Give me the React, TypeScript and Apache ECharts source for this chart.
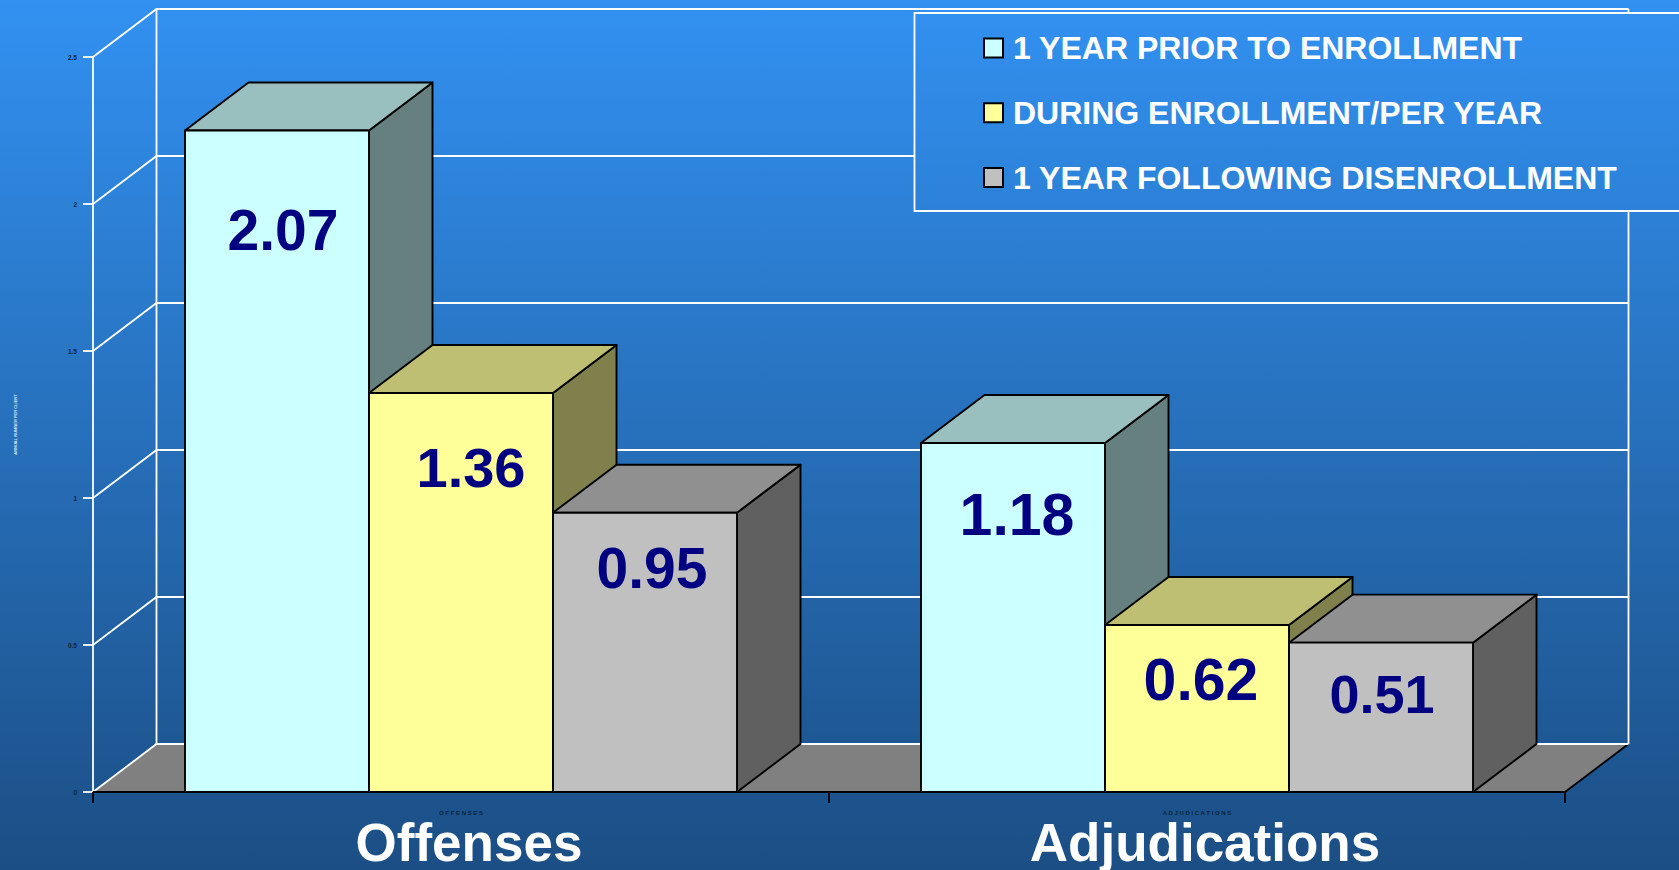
import React, { useEffect, useRef } from "react";
import * as echarts from "echarts";

const categories = ["OFFENSES", "ADJUDICATIONS"];
const categoryTitles = ["Offenses", "Adjudications"];
const seriesNames = ["1 YEAR PRIOR TO ENROLLMENT", "DURING ENROLLMENT/PER YEAR", "1 YEAR FOLLOWING DISENROLLMENT"];
// Bar heights as drawn against the axis. Printed labels differ from the drawn height on two bars, as in the picture.
const priorHeights = [2.25, 1.187];
const duringHeights = [1.357, 0.568];
const followingHeights = [0.95, 0.508];
const priorLabels = ["2.07", "1.18"];
const duringLabels = ["1.36", "0.62"];
const followingLabels = ["0.95", "0.51"];
const yTicks = [0, 0.5, 1, 1.5, 2, 2.5];

// Placement of the printed labels: level in axis units, sideways shift and font size in pixels
const priorLabelLevels = [1.91, 0.942];
const duringLabelLevels = [1.104, 0.38];
const followingLabelLevels = [0.761, 0.334];
const priorLabelShifts = [6, 4];
const duringLabelShifts = [10, 4];
const followingLabelShifts = [7, 1];
const priorLabelSizes = [57, 59];
const duringLabelSizes = [56, 59];
const followingLabelSizes = [57, 54];

const frontColors = ["#CCFFFF", "#FFFF99", "#C0C0C0"];
const topColors = ["#99BFBF", "#BFBF73", "#909090"];
const sideColors = ["#668080", "#80804D", "#606060"];

const DX = 63.5;
const DY = 48;
const W = 1679;
const H = 870;
const BG_TOP = [50, 145, 241];
const BG_BOTTOM = [27, 78, 132];

function bgAt(y: number) {
  const t = y / H;
  const c = BG_TOP.map((v, i) => Math.round(v + (BG_BOTTOM[i] - v) * t));
  return `rgb(${c[0]},${c[1]},${c[2]})`;
}

function renderWall(params: any, api: any) {
  const v = api.value(1);
  const cs = params.coordSys;
  const y = api.coord([0, v])[1];
  const x0 = cs.x;
  const x1 = cs.x + cs.width;
  const white = { stroke: "#FFFFFF", lineWidth: 1.8, fill: "none" };
  const children: any[] = [];
  if (v === 0) {
    children.push({
      type: "polygon",
      shape: { points: [[x0, y], [x0 + DX, y - DY], [x1 + DX, y - DY], [x1, y]] },
      style: { fill: "#808080" },
    });
    children.push({
      type: "line",
      shape: { x1: x1, y1: y, x2: x1 + DX, y2: y - DY },
      style: { stroke: "#000000", lineWidth: 1.8 },
    });
  }
  children.push({ type: "polyline", shape: { points: [[x0, y], [x0 + DX, y - DY], [x1 + DX, y - DY]] }, style: white });
  if (v === yTicks[yTicks.length - 1]) {
    const yb = api.coord([0, 0])[1] - DY;
    children.push({ type: "line", shape: { x1: x0 + DX, y1: y - DY, x2: x0 + DX, y2: yb }, style: white });
    children.push({ type: "line", shape: { x1: x1 + DX, y1: y - DY, x2: x1 + DX, y2: yb }, style: white });
  }
  return { type: "group", children };
}

function makeBarRenderer(index: number, labels: string[], levels: number[], shifts: number[], sizes: number[]) {
  return (params: any, api: any) => {
    const cat = api.value(0);
    const base = api.coord([cat, 0]);
    const top = api.coord([cat, api.value(1)]);
    const band = api.size([1, 0])[0];
    const w = band / 4;
    const l = base[0] + (index - 1.5) * w;
    const r = l + w;
    const edge = { stroke: "#000000", lineWidth: 1.9, lineJoin: "round" };
    const labelY = api.coord([cat, levels[params.dataIndex]])[1];
    return {
      type: "group",
      children: [
        {
          type: "polygon",
          shape: { points: [[r, base[1]], [r + DX, base[1] - DY], [r + DX, top[1] - DY], [r, top[1]]] },
          style: { fill: sideColors[index], ...edge },
        },
        {
          type: "polygon",
          shape: { points: [[l, top[1]], [l + DX, top[1] - DY], [r + DX, top[1] - DY], [r, top[1]]] },
          style: { fill: topColors[index], ...edge },
        },
        {
          type: "rect",
          shape: { x: l, y: top[1], width: w, height: base[1] - top[1] },
          style: { fill: frontColors[index], ...edge },
        },
        {
          type: "text",
          x: (l + r) / 2 + shifts[params.dataIndex],
          y: labelY,
          style: {
            text: labels[params.dataIndex],
            fill: "#000080",
            font: `bold ${sizes[params.dataIndex]}px "Liberation Sans", Arial, sans-serif`,
            textAlign: "center",
            textVerticalAlign: "middle",
          },
        },
      ],
    };
  };
}

export default function App() {
  const ref = useRef<HTMLDivElement>(null);
  useEffect(() => {
    const chart = echarts.init(ref.current!, undefined, { renderer: "svg" });
    const font = '"Liberation Sans", Arial, sans-serif';
    const barSets = [
      { h: priorHeights, l: priorLabels, lv: priorLabelLevels, d: priorLabelShifts, s: priorLabelSizes },
      { h: duringHeights, l: duringLabels, lv: duringLabelLevels, d: duringLabelShifts, s: duringLabelSizes },
      { h: followingHeights, l: followingLabels, lv: followingLabelLevels, d: followingLabelShifts, s: followingLabelSizes },
    ];
    chart.setOption({
      animation: false,
      backgroundColor: {
        type: "linear", x: 0, y: 0, x2: 0, y2: 1,
        colorStops: [{ offset: 0, color: bgAt(0) }, { offset: 1, color: bgAt(H) }],
      },
      grid: { left: 93, right: W - 1565, top: 57, bottom: H - 792 },
      xAxis: {
        type: "category",
        data: categories,
        z: 5,
        axisLine: { show: true, lineStyle: { color: "#000000", width: 2.2 } },
        axisTick: { show: true, alignWithLabel: false, length: 11, lineStyle: { color: "#000000", width: 1.8 } },
        axisLabel: {
          margin: 18,
          fontSize: 6,
          fontWeight: "bold",
          fontFamily: font,
          lineHeight: 6,
          color: "#0B2440",
          formatter: (v: string) => v.split("").join(" "),
        },
      },
      yAxis: {
        type: "value",
        min: 0,
        max: 2.5,
        interval: 0.5,
        name: "ANNUAL NUMBER PER CLIENT",
        nameLocation: "middle",
        nameRotate: 90,
        nameGap: 76,
        nameTextStyle: { fontSize: 4, fontWeight: "bold", color: "#DCE9F7", fontFamily: font },
        z: 5,
        splitLine: { show: false },
        axisLine: { show: true, lineStyle: { color: "#FFFFFF", width: 1.8 } },
        axisTick: { show: true, length: 10, lineStyle: { color: "#FFFFFF", width: 1.8 } },
        axisLabel: {
          margin: 16,
          fontSize: 6.5,
          fontWeight: "bold",
          fontFamily: font,
          color: "#0B2440",
          formatter: (v: number) => String(v),
        },
      },
      legend: {
        orient: "vertical",
        left: 983,
        top: 32,
        padding: 0,
        itemWidth: 19,
        itemHeight: 19,
        itemGap: 32.8,
        selectedMode: false,
        z: 6,
        textStyle: {
          color: "#FFFFFF",
          fontSize: 32,
          fontWeight: "bold",
          fontFamily: font,
          padding: [0, 0, 0, 5],
        },
        data: seriesNames.map((n, i) => ({
          name: n,
          icon: "rect",
          itemStyle: { color: frontColors[i], borderColor: "#000000", borderWidth: 2 },
        })),
      },
      series: [
        {
          type: "custom",
          name: "walls",
          z: 1,
          silent: true,
          renderItem: renderWall,
          encode: { x: 0, y: 1 },
          data: yTicks.map((t) => [0, t]),
        },
        ...barSets.map((b, i) => ({
          type: "custom",
          name: seriesNames[i],
          z: 2 + i,
          itemStyle: { color: frontColors[i] },
          renderItem: makeBarRenderer(i, b.l, b.lv, b.d, b.s),
          encode: { x: 0, y: 1 },
          data: b.h.map((v, c) => [c, v]),
        })),
      ],
      graphic: [
        {
          type: "rect",
          z: 5,
          shape: { x: 914.5, y: 13, width: 800, height: 198 },
          style: {
            stroke: "#FFFFFF",
            lineWidth: 1.8,
            fill: {
              type: "linear", x: 0, y: 0, x2: 0, y2: 1,
              colorStops: [{ offset: 0, color: bgAt(13) }, { offset: 1, color: bgAt(211) }],
            },
          },
        },
        {
          type: "text",
          z: 6,
          x: 469,
          y: 842,
          style: { text: categoryTitles[0], fill: "#FFFFFF", font: `bold 53px ${font}`, lineHeight: 44, textAlign: "center", textVerticalAlign: "middle" },
        },
        {
          type: "text",
          z: 6,
          x: 1205,
          y: 842,
          style: { text: categoryTitles[1], fill: "#FFFFFF", font: `bold 53px ${font}`, lineHeight: 44, textAlign: "center", textVerticalAlign: "middle" },
        },
      ],
    });
    return () => chart.dispose();
  }, []);
  return <div ref={ref} style={{ position: "fixed", left: 0, top: 0, width: W, height: H }} />;
}
